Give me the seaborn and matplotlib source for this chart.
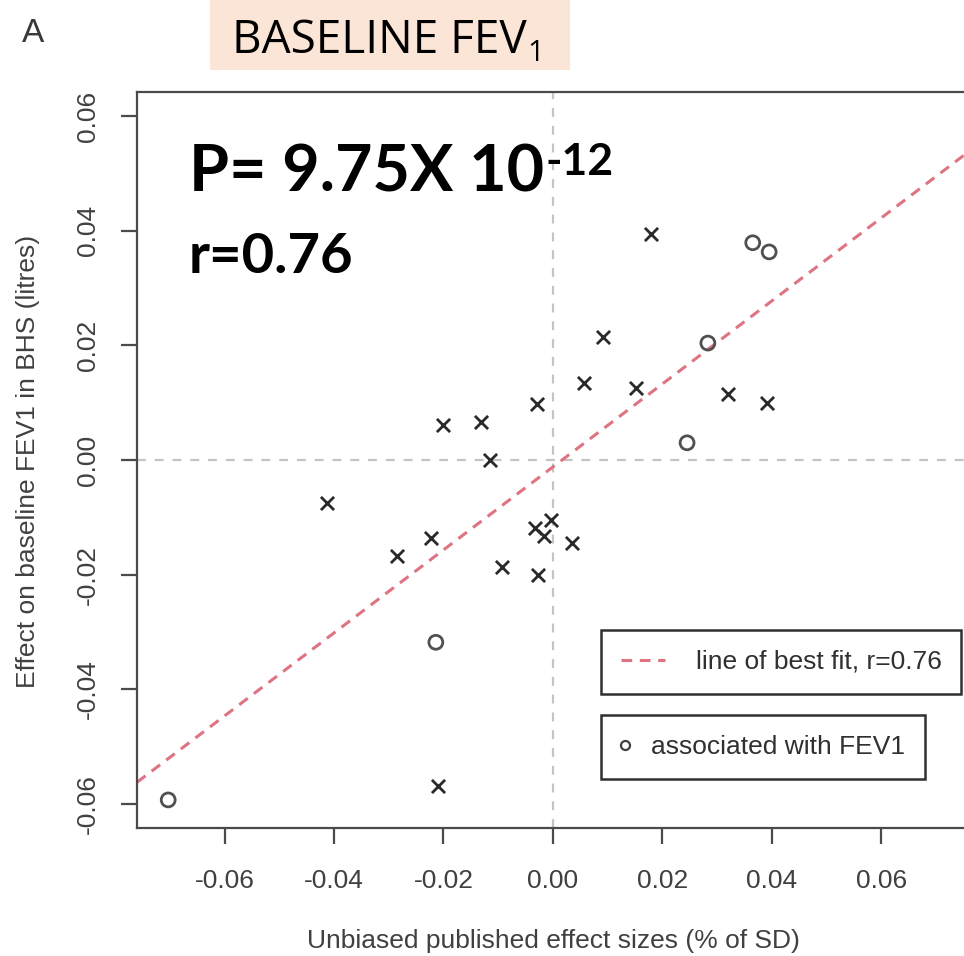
import numpy as np
import pandas as pd
import matplotlib
matplotlib.use("Agg")
import matplotlib.pyplot as plt
import seaborn as sns
from matplotlib.lines import Line2D
from matplotlib.patches import Rectangle

sns.set_theme(style="white")
plt.rcParams['font.family'] = ['Liberation Sans Narrow', 'Liberation Sans', 'DejaVu Sans']

# Data
cross_x = [-0.0201, -0.0132, -0.0115, 0.0179, 0.0091, 0.0057, 0.0152, 0.0320, 0.0391, -0.0029,
           -0.0413, -0.0285, -0.0223, -0.0093, -0.0210, -0.0033, -0.0004, -0.0016, 0.0035, -0.0027]
cross_y = [0.0061, 0.0066, 0.0000, 0.0394, 0.0215, 0.0134, 0.0126, 0.0115, 0.0099, 0.0098,
           -0.0075, -0.0168, -0.0136, -0.0187, -0.0569, -0.0119, -0.0105, -0.0133, -0.0145, -0.0201]
circle_x = [0.0365, 0.0395, 0.0283, 0.0245, -0.0214, -0.0703]
circle_y = [0.0379, 0.0363, 0.0204, 0.0030, -0.0318, -0.0593]
fit_slope = 0.724
fit_intercept = -0.0012
ticks = [-0.06, -0.04, -0.02, 0.00, 0.02, 0.04, 0.06]
tick_labels = ["-0.06", "-0.04", "-0.02", "0.00", "0.02", "0.04", "0.06"]

df_cross = pd.DataFrame({'x': cross_x, 'y': cross_y})
df_circle = pd.DataFrame({'x': circle_x, 'y': circle_y})

W, H = 964, 956
fig = plt.figure(figsize=(W / 100, H / 100), dpi=100)
ax = fig.add_axes([137 / W, 1 - 828 / H, (W - 137) / W, (828 - 92) / H])

frame = '#4a4a4a'
red = '#de7482'
ax.axhline(0, color='#c4c4c4', lw=1.6, ls=(0, (4, 4)), zorder=1)
ax.axvline(0, color='#c4c4c4', lw=1.6, ls=(0, (4, 4)), zorder=1)
ax.axline((0, fit_intercept), slope=fit_slope, color=red, lw=2.2, ls=(0, (3.5, 2.5)), zorder=2)

sns.scatterplot(data=df_cross, x='x', y='y', marker='x', s=90, color='#2a2a2a', linewidth=2.0, ax=ax, zorder=3)
sns.scatterplot(data=df_circle, x='x', y='y', marker='o', s=100, facecolors='none', edgecolor='#505050',
                linewidth=2.0, ax=ax, zorder=3)

ax.set_xlim(-0.0760, 0.0751)
ax.set_ylim(-0.0642, 0.0642)
ax.set_xticks(ticks)
ax.set_xticklabels(tick_labels)
ax.set_yticks(ticks)
ax.set_yticklabels(tick_labels, rotation=90, va='center')
ax.tick_params(axis='both', direction='out', length=11.5, width=1.6, color=frame, labelcolor='#404040',
               labelsize=19, bottom=True, left=True)
ax.tick_params(axis='x', pad=18)
ax.tick_params(axis='y', pad=15)
for side in ['left', 'bottom', 'top']:
    ax.spines[side].set_color(frame)
    ax.spines[side].set_linewidth(1.6)
ax.spines['right'].set_visible(False)

ax.set_xlabel('Unbiased published effect sizes (% of SD)', fontsize=19, color='#404040')
ax.set_ylabel('Effect on baseline FEV1 in BHS (litres)', fontsize=19, color='#404040')
ax.xaxis.set_label_coords((553 - 137) / (W - 137), -(929 - 828) / (828 - 92))
ax.yaxis.set_label_coords(-(137 - 40) / (W - 137), (828 - 461) / (828 - 92))

# two separate legend boxes
h1 = Line2D([], [], color=red, lw=2.2, ls=(0, (3.5, 2.5)))
leg1 = ax.legend([h1], ['line of best fit, r=0.76'], loc='upper left',
                 bbox_to_anchor=(601 / W, 1 - 630 / H), bbox_transform=fig.transFigure,
                 frameon=True, fancybox=False, framealpha=1, edgecolor='#303030', fontsize=19,
                 handlelength=1.67, handletextpad=1.17, borderpad=0.75, borderaxespad=0,
                 labelcolor='#303030')
leg1.get_frame().set_linewidth(1.8)
ax.add_artist(leg1)
h2 = Line2D([], [], marker='o', ls='none', markersize=6.5, markerfacecolor='none',
            markeredgecolor='#404040', markeredgewidth=1.6)
leg2 = ax.legend([h2], ['associated with FEV1'], loc='upper left',
                 bbox_to_anchor=(601 / W, 1 - 715 / H), bbox_transform=fig.transFigure,
                 frameon=True, fancybox=False, framealpha=1, edgecolor='#303030', fontsize=19,
                 handlelength=0.35, handletextpad=0.8, borderpad=0.75, borderaxespad=0,
                 labelcolor='#303030')
leg2.get_frame().set_linewidth(1.8)

# annotations
big = ['Lato', 'DejaVu Sans']
t1 = fig.text(189 / W, 1 - 192 / H, 'P= 9.75X 10', fontsize=46.5, fontweight='bold', family=big,
              color='black', va='baseline')
t3 = fig.text(189 / W, 1 - 273 / H, 'r=0.76', fontsize=40.5, fontweight='bold', family=big,
              color='black', va='baseline')

# title box
fig.patches.append(Rectangle((210 / W, 1 - 70 / H), 360 / W, 70 / H, transform=fig.transFigure,
                             facecolor='#FBE5D6', edgecolor='none', zorder=0))
title_font = ['Open Sans', 'DejaVu Sans']
t2 = fig.text(232 / W, 1 - 53 / H, 'BASELINE FEV', fontsize=33, family=title_font,
              color='black', va='baseline')
fig.text(33 / W, 1 - 34 / H, 'A', fontsize=24, color='#3a3a3a', va='center', ha='center',
         family=['Liberation Sans', 'DejaVu Sans'])

# superscript / subscript placed next to the rendered text
fig.canvas.draw()
bb1 = t1.get_window_extent()
fig.text(bb1.x1 / W + 1 / W, (bb1.y1 + 2) / H, '-12', fontsize=32, fontweight='bold', family=big,
         color='black', va='top', ha='left')
bb2 = t2.get_window_extent()
fig.text(bb2.x1 / W + 1 / W, 1 - 61 / H, '1', fontsize=21, family=title_font,
         color='black', va='baseline', ha='left')

fig.savefig('out.png', dpi=100)
